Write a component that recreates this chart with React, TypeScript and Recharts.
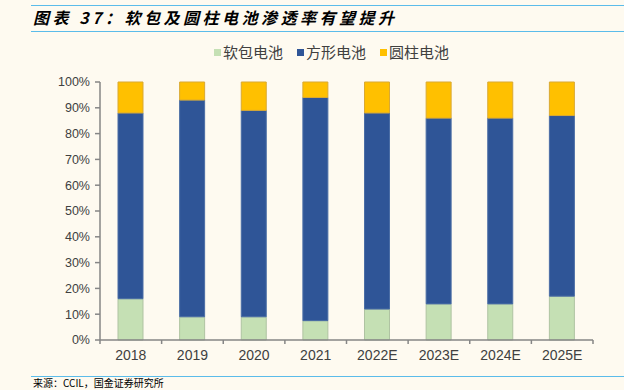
import { BarChart, Bar, XAxis, YAxis } from "recharts";

const years = ["2018", "2019", "2020", "2021", "2022E", "2023E", "2024E", "2025E"];
const pouch = [16, 9, 9, 7.5, 12, 14, 14, 17];
const prismatic = [72, 84, 80, 86.5, 76, 72, 72, 70];
const cylindrical = [12, 7, 11, 6, 12, 14, 14, 13];
const yTicks = [0, 10, 20, 30, 40, 50, 60, 70, 80, 90, 100];

const series = [
  { key: "pouch", name: "软包电池", fill: "#C5E0B4", stroke: "#AFC3A2" },
  { key: "prismatic", name: "方形电池", fill: "#2F5597", stroke: "#4A6DA5" },
  { key: "cylindrical", name: "圆柱电池", fill: "#FFC000", stroke: "#D9A933" },
];

const data = years.map((year, i) => ({
  year,
  pouch: pouch[i],
  prismatic: prismatic[i],
  cylindrical: cylindrical[i],
}));

const W = 624;
const H = 390;
const margin = { top: 82, right: 31, bottom: 20, left: 40 };
const Y_W = 60;
const X_H = 30;
const plotBottom = H - margin.bottom - X_H;
const step = (W - margin.left - Y_W - margin.right) / years.length;

const FONT = "'Liberation Sans', Arial, 'Noto Sans CJK SC', sans-serif";
const CJK = "'Noto Sans CJK SC', sans-serif";
const AXIS = "#868686";

function XTick(props: any) {
  const { x, y, payload, index } = props;
  const last = index === years.length - 1;
  return (
    <g>
      <line x1={x - step / 2} x2={x - step / 2} y1={plotBottom} y2={plotBottom + 4} stroke={AXIS} strokeWidth={1.5} />
      {last && (
        <line x1={x + step / 2} x2={x + step / 2} y1={plotBottom} y2={plotBottom + 4} stroke={AXIS} strokeWidth={1.5} />
      )}
      <text x={x} y={y} dy="0.71em" textAnchor="middle" fill="#404040" fontSize={14} fontFamily={FONT}>
        {payload.value}
      </text>
    </g>
  );
}

export default function App() {
  return (
    <div
      style={{
        position: "fixed",
        left: 0,
        top: 0,
        width: W,
        height: H,
        background: "#FEFAF0",
        overflow: "hidden",
        fontFamily: FONT,
      }}
    >
      <div style={{ position: "absolute", left: 31, right: 0, top: 5, height: 0, borderTop: "1.5px solid #5BBCEA" }} />
      <div
        style={{
          position: "absolute",
          left: 33,
          top: 7,
          fontSize: 16,
          lineHeight: "20px",
          fontWeight: "bold",
          fontStyle: "italic",
          letterSpacing: "3.5px",
          color: "#000",
          whiteSpace: "nowrap",
          fontFamily: CJK,
        }}
      >
        图表 37：软包及圆柱电池渗透率有望提升
      </div>
      <div style={{ position: "absolute", left: 31, right: 0, top: 31, height: 0, borderTop: "1.5px solid #5BBCEA" }} />

      <div
        style={{
          position: "absolute",
          left: 214,
          top: 42,
          display: "flex",
          alignItems: "center",
          fontSize: 15,
          lineHeight: "20px",
          color: "#404040",
          fontFamily: CJK,
          whiteSpace: "nowrap",
        }}
      >
        {series.map((s, i) => (
          <div key={s.key} style={{ display: "flex", alignItems: "center", marginRight: i < 2 ? 14 : 0 }}>
            <span style={{ display: "inline-block", width: 7, height: 7, background: s.fill, marginRight: 2 }} />
            <span>{s.name}</span>
          </div>
        ))}
      </div>

      <div style={{ position: "absolute", left: 0, top: 0 }}>
        <BarChart width={W} height={H} data={data} margin={margin} barSize={25}>
          <XAxis
            dataKey="year"
            height={X_H}
            axisLine={{ stroke: AXIS, strokeWidth: 1.5 }}
            tickLine={false}
            tickSize={0}
            tickMargin={10}
            tick={<XTick />}
            interval={0}
          />
          <YAxis
            width={Y_W}
            domain={[0, 100]}
            ticks={yTicks}
            tickFormatter={(v: number) => `${v}%`}
            axisLine={{ stroke: AXIS, strokeWidth: 1.5 }}
            tickLine={{ stroke: AXIS, strokeWidth: 1.5 }}
            tickSize={5}
            tickMargin={5}
            tick={{ fill: "#404040", fontSize: 12.5, fontFamily: FONT }}
            interval={0}
          />
          {series.map((s) => (
            <Bar
              key={s.key}
              dataKey={s.key}
              name={s.name}
              stackId="a"
              fill={s.fill}
              stroke={s.stroke}
              strokeWidth={1}
              isAnimationActive={false}
            />
          ))}
        </BarChart>
      </div>

      <div style={{ position: "absolute", left: 31, right: 0, top: 376, height: 0, borderTop: "1.5px solid #5BBCEA" }} />
      <div
        style={{
          position: "absolute",
          left: 33,
          top: 377,
          fontSize: 10,
          lineHeight: "12px",
          color: "#000",
          whiteSpace: "nowrap",
          fontFamily: CJK,
        }}
      >
        来源：CCIL，国金证券研究所
      </div>
    </div>
  );
}
